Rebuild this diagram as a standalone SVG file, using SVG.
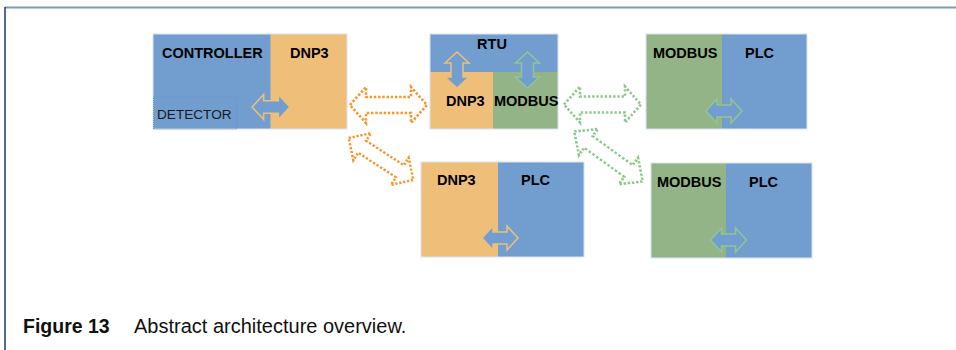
<svg xmlns="http://www.w3.org/2000/svg" width="956" height="350" viewBox="0 0 956 350">
  <defs>
    <style>
      .blue { fill: #729ECF; }
      .orange { fill: #EFBF7A; }
      .green { fill: #93B486; }
      .edge { fill: none; stroke: #D9E4F0; stroke-width: 1; }
      .lbl { font-family: "Liberation Sans", Arial, sans-serif; font-weight: bold; font-size: 14.5px; fill: #000; }
      .det { font-family: "Liberation Sans", Arial, sans-serif; font-size: 13.6px; fill: #1a1a1a; }
      .cap { font-family: "Liberation Sans", Arial, sans-serif; font-size: 20px; fill: #111; }
      .dotO { fill: none; stroke: #F7962B; stroke-width: 2.6; stroke-dasharray: 2.4 1.8; }
      .dotG { fill: none; stroke: #8DC98D; stroke-width: 2.6; stroke-dasharray: 2.4 1.8; }
      .smO { fill: #729ECF; stroke: #EFBF7A; stroke-width: 1.5; }
      .smG { fill: #729ECF; stroke: #93C493; stroke-width: 1.5; }
    </style>
    <path id="bigH" d="M -38.5 0 L -22.5 -18 L -22.5 -8 L 22.5 -8 L 22.5 -18 L 38.5 0 L 22.5 18 L 22.5 8 L -22.5 8 L -22.5 18 Z"/>
    <path id="small" d="M -18 0 L -7 -12 L -7 -6 L 7 -6 L 7 -12 L 18 0 L 7 12 L 7 6 L -7 6 L -7 12 Z"/>
  </defs>

  <rect width="956" height="350" fill="#fff"/>
  <g id="frame">
    <line x1="5" y1="7.5" x2="956" y2="7.5" stroke="#7F99B3" stroke-width="2"/>
    <line x1="5" y1="7" x2="5" y2="350" stroke="#1F3864" stroke-width="1.5"/>
  </g>

  <g id="controller">
    <rect class="blue" x="153" y="34" width="118" height="95"/>
    <rect class="orange" x="270.5" y="34" width="76.5" height="95"/>
    <rect class="edge" x="153" y="34" width="194" height="95"/>
    <rect x="153.5" y="97" width="83" height="32" fill="none" stroke="#6A93C4" stroke-width="1" stroke-dasharray="1 1"/>
    <text class="lbl" x="162" y="58">CONTROLLER</text>
    <text class="lbl" x="290" y="58">DNP3</text>
    <text class="det" x="157" y="119">DETECTOR</text>
    <use href="#small" class="smO" transform="translate(271,107) scale(1.05,1.04)"/>
  </g>

  <g id="rtu">
    <rect class="blue" x="430" y="34" width="128" height="38"/>
    <rect class="orange" x="430" y="72" width="63.5" height="57"/>
    <rect class="green" x="493" y="72" width="65" height="57"/>
    <rect class="edge" x="430" y="34" width="128" height="95"/>
    <text class="lbl" x="492" y="49" text-anchor="middle">RTU</text>
    <text class="lbl" x="446" y="106">DNP3</text>
    <text class="lbl" x="494" y="106">MODBUS</text>
    <use href="#small" class="smO" transform="translate(457,70) rotate(90)"/>
    <use href="#small" class="smG" transform="translate(527.5,70) rotate(90)"/>
  </g>

  <g id="plc1">
    <rect class="green" x="646" y="34" width="76.5" height="95"/>
    <rect class="blue" x="722" y="34" width="85" height="95"/>
    <rect class="edge" x="646" y="34" width="161" height="95"/>
    <text class="lbl" x="653" y="58">MODBUS</text>
    <text class="lbl" x="745" y="58">PLC</text>
    <use href="#small" class="smG" transform="translate(724,111)"/>
  </g>

  <g id="plc2">
    <rect class="orange" x="421" y="162" width="77.5" height="95"/>
    <rect class="blue" x="498" y="162" width="86" height="95"/>
    <rect class="edge" x="421" y="162" width="163" height="95"/>
    <text class="lbl" x="437" y="185">DNP3</text>
    <text class="lbl" x="521" y="185">PLC</text>
    <use href="#small" class="smO" transform="translate(500,238)"/>
  </g>

  <g id="plc3">
    <rect class="green" x="651" y="163" width="75.5" height="95"/>
    <rect class="blue" x="726" y="163" width="86" height="95"/>
    <rect class="edge" x="651" y="163" width="161" height="95"/>
    <text class="lbl" x="657" y="187">MODBUS</text>
    <text class="lbl" x="749" y="187">PLC</text>
    <use href="#small" class="smG" transform="translate(728.5,240)"/>
  </g>

  <g id="connectors">
    <use href="#bigH" class="dotO" transform="translate(388.5,105)"/>
    <use href="#bigH" class="dotO" transform="translate(381,159) rotate(33) scale(1,0.9)"/>
    <use href="#bigH" class="dotG" transform="translate(602.5,104.5)"/>
    <use href="#bigH" class="dotG" transform="translate(608.5,156.5) rotate(36) scale(1.1,0.9)"/>
  </g>

  <g id="caption">
    <text class="cap" x="23" y="333"><tspan font-weight="bold" font-size="19.5px">Figure 13</tspan><tspan x="134">Abstract architecture overview.</tspan></text>
  </g>
</svg>
